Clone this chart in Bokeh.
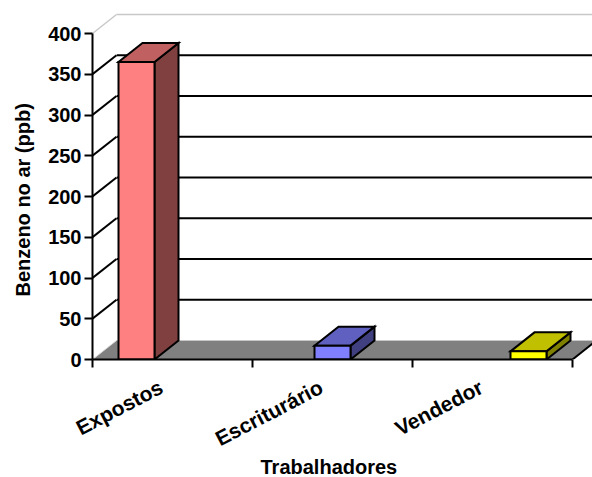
from bokeh.plotting import figure
from bokeh.models import FixedTicker, CustomJSTickFormatter, Title
from bokeh.embed import file_html
from bokeh.resources import INLINE

# Benzene in air by worker group
categories = ["Expostos", "Escriturário", "Vendedor"]
benzeno_ppb = [365, 17, 10]
y_ticks = [0, 50, 100, 150, 200, 250, 300, 350, 400]

front_colors = ["#FF8080", "#8080FF", "#FFFF00"]
top_colors = ["#C06060", "#6060C0", "#C0C000"]
side_colors = ["#804040", "#404080", "#808000"]

FONT = "Liberation Sans"

# canvas / frame layout (pixels)
W, H = 592, 477
LEFT, RIGHT, TOP, BOTTOM = 92, 0, 5, 118
frame_w = W - LEFT - RIGHT
frame_h = H - TOP - BOTTOM
px_per_cat = 160.0
px_per_unit = 326.0 / 400.0
x_end = frame_w / px_per_cat
y_end = frame_h / px_per_unit

n = len(categories)
y_max = y_ticks[-1]

# oblique depth of the 3-D box, in data units
DX = 24 / px_per_cat
DY = 19 / px_per_unit

BAR_W = 0.225
BAR_SHIFT = 0.225

p = figure(width=W, height=H, x_range=(0, x_end), y_range=(0, y_end),
           output_backend="svg", toolbar_location=None,
           min_border_left=LEFT, min_border_right=RIGHT,
           min_border_top=TOP, min_border_bottom=BOTTOM)
p.outline_line_color = None
p.grid.visible = False
p.background_fill_color = "white"
p.border_fill_color = "white"

# back wall grid lines
for v in y_ticks[1:-1]:
    p.line([DX, x_end], [v + DY, v + DY], line_color="black", line_width=2)
p.line([DX, x_end], [y_max + DY, y_max + DY], line_color="#C8C8C8", line_width=1.5)

# left side wall
p.patch([0, DX, DX, 0], [0, DY, y_max + DY, y_max], fill_color="white", line_color=None)
for v in y_ticks[1:-1]:
    p.line([0, DX], [v, v + DY], line_color="black", line_width=2)
p.line([0, DX], [y_max, y_max + DY], line_color="#C8C8C8", line_width=1.5)

# floor
p.patch([0, n, n + DX, DX], [0, 0, DY, DY], fill_color="#808080", line_color=None)
p.line([DX, n + DX], [DY, DY], line_color="#C8C8C8", line_width=1)
p.line([0, DX], [0, DY], line_color="#D8D8D8", line_width=1)
p.line([n, n + DX], [0, DY], line_color="black", line_width=2)

# 3-D columns
for i, v in enumerate(benzeno_ppb):
    xc = i + 0.5 + (i - 1) * BAR_SHIFT
    x0, x1 = xc - BAR_W / 2, xc + BAR_W / 2
    p.patch([x1, x1 + DX, x1 + DX, x1], [0, DY, v + DY, v],
            fill_color=side_colors[i], line_color="black", line_width=2, line_join="miter")
    p.patch([x0, x1, x1 + DX, x0 + DX], [v, v, v + DY, v + DY],
            fill_color=top_colors[i], line_color="black", line_width=2, line_join="miter")
    p.patch([x0, x1, x1, x0], [0, 0, v, v],
            fill_color=front_colors[i], line_color="black", line_width=2, line_join="miter")

# value axis
ya = p.yaxis[0]
ya.ticker = FixedTicker(ticks=y_ticks, minor_ticks=[])
ya.bounds = (0, y_max)
ya.axis_line_width = 2
ya.major_tick_line_width = 2
ya.major_tick_out = 8
ya.major_tick_in = 0
ya.major_label_standoff = 3
ya.major_label_text_font = FONT
ya.major_label_text_font_style = "bold"
ya.major_label_text_font_size = "20px"
ya.major_label_text_color = "black"

# category axis: boundary ticks, names near each category centre
xa = p.xaxis[0]
xa.ticker = FixedTicker(ticks=[i + 0.5 - 0.07 for i in range(n)],
                        minor_ticks=list(range(n + 1)))
xa.formatter = CustomJSTickFormatter(args=dict(names=categories),
                                     code="return names[Math.floor(tick)]")
xa.bounds = (0, n)
xa.axis_line_width = 2
xa.major_tick_out = 0
xa.major_tick_in = 0
xa.minor_tick_out = 8
xa.minor_tick_in = 0
xa.minor_tick_line_width = 2
xa.major_label_orientation = 0.48
xa.major_label_standoff = 18
xa.major_label_text_font = FONT
xa.major_label_text_font_style = "bold"
xa.major_label_text_font_size = "21px"
xa.major_label_text_color = "black"

# axis titles
p.add_layout(Title(text="Trabalhadores", align="left", offset=168, standoff=-19,
                   text_color="black", text_font=FONT, text_font_style="bold",
                   text_font_size="20px"), "below")
p.add_layout(Title(text="Benzeno no ar (ppb)", align="left", offset=63, standoff=20,
                   vertical_align="top",
                   text_color="black", text_font=FONT, text_font_style="bold",
                   text_font_size="20px"), "left")

open("out.html", "w").write(file_html(p, INLINE))
